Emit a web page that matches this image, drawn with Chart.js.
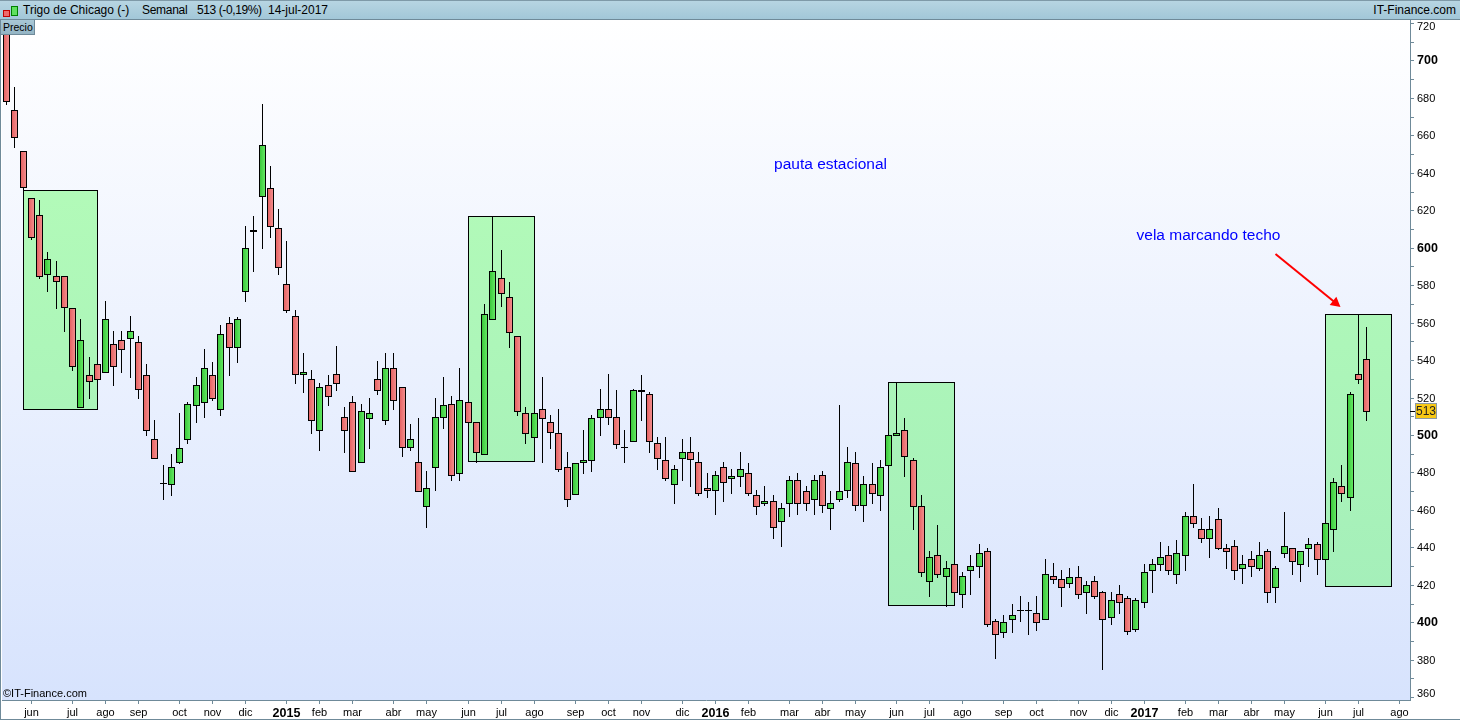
<!DOCTYPE html>
<html>
<head>
<meta charset="utf-8">
<title>Trigo de Chicago</title>
<script src="https://cdn.jsdelivr.net/npm/chart.js@4/dist/chart.umd.js"></script>
<style>
  html, body { margin: 0; padding: 0; background: #fff; overflow: hidden; }
  #wrap { position: relative; width: 1460px; height: 720px; font-family: "Liberation Sans", Arial, sans-serif; color: #000; }
  canvas { position: absolute; left: 0; top: 0; }
  #header { position: absolute; left: 0; top: 0; width: 1460px; height: 20px; box-sizing: border-box;
    background: linear-gradient(#b7d5e2, #a2c7d8); border-top: 1px solid #7f9aa8; border-bottom: 1px solid #6f8a99; font-size: 12px; line-height: 19px; }
  #header span { position: absolute; top: 0; white-space: pre; }
  .ico { position: absolute; box-sizing: border-box; border: 1px solid; }
  #precio { position: absolute; left: 1px; top: 20px; width: 34px; height: 15px; box-sizing: border-box; background: linear-gradient(#a9c8d6, #93b4c4);
    border-right: 1px solid #6f8a99; border-bottom: 1px solid #6f8a99; font-size: 10.5px; line-height: 14px; padding-left: 2px; }
  #copy { position: absolute; left: 3px; top: 687px; font-size: 11px; line-height: 13px; }
  #edge { position: absolute; left: 0; top: 20px; width: 1px; height: 700px; background: #6f8a99; }
  #foot { position: absolute; left: 0; top: 719px; width: 1460px; height: 1px; background: #6f8a99; }
</style>
</head>
<body>
<div id="wrap">
  <canvas id="chart" width="1460" height="720"></canvas>
  <div id="header">
    <i class="ico" style="left:3px;top:9px;width:7px;height:7px;background:#ee6a6a;border-color:#c00000"></i>
    <i class="ico" style="left:11px;top:5px;width:7px;height:10px;background:#5fe05f;border-color:#008000"></i>
    <span style="left:23px">Trigo de Chicago (-)</span>
    <span style="left:142px;letter-spacing:-0.3px">Semanal</span>
    <span style="left:197px;letter-spacing:-0.4px">513 (-0,19%)</span>
    <span style="left:268px">14-jul-2017</span>
    <span style="right:4px">IT-Finance.com</span>
  </div>
  <div id="precio">Precio</div>
  <div id="copy">©IT-Finance.com</div>
  <div id="edge"></div>
  <div id="foot"></div>
</div>
<script>
// weekly candles
const opens = [725,673.4,651.5,626.4,617.3,585.7,584.8,584.8,567.7,514.6,531.9,537.8,533.3,548.4,550.6,551.5,549.5,531.9,497.7,473.7,
  473.5,485.3,497.5,515.7,517.3,531.9,513.6,559.7,546.7,576.5,609.2,627.2,631.7,610.3,580.4,563.3,532.2,529.7,502.3,526.5,
  532.4,509.4,517.4,485.2,508.7,529.7,507.6,535.6,525.4,493.2,485.4,461.7,482.5,509.2,516.3,479.3,517.5,506.8,489.5,561.6,
  583.7,573.6,552.7,511.6,498.6,513.8,506.8,500.9,482.8,467.7,485.3,486.3,509.3,513.8,509.5,493.3,496.5,522.7,521.8,495.6,
  486.5,473.5,487.4,490.8,485.4,471.5,470.3,482.7,476.7,477.7,479.5,467.8,463.3,464.6,453.7,463.3,475.8,469.9,465.5,478.4,
  460.7,465.5,470.3,484.9,462.3,473.6,467.6,483.6,499.6,502.5,486.5,461.9,421.7,435.7,424.3,430.9,414.7,427.5,429.7,437.9,
  400.5,394.4,401.4,405.8,405.8,404.8,401.4,424.5,422.9,420.6,424,415.8,421.8,416,402.4,414.9,412.8,396,410.3,427.5,
  430.7,435.7,425.4,435.6,456.6,449.6,444.6,454.9,439.5,440.5,428.6,433.6,428.6,437.9,418.5,436.6,439.5,430.7,439.3,441.6,
  433.5,449.4,472.6,466.5,532.4,540.4];
const highs = [725,685.7,651.5,626.4,625.5,597.8,592.9,584.8,567.7,562,541.7,537.8,571.6,555.6,555.6,563.6,552.9,538,508,484,
  489.9,511.8,517.5,531,546,539,558.8,563,563,611.6,616.9,676.7,643.6,620.7,603.6,566.7,543.8,534.7,527.6,532,
  547.5,514.9,520.8,516.5,519.7,539.5,543.8,543.8,525.4,505.7,509,480.7,519.7,531,520.8,535.7,517.5,506.8,570,617,
  598.8,581.8,552.7,515,511.6,531,510.7,514,491,484.9,502.7,510.7,524.6,532.6,523.9,502.7,524.6,532.1,522.8,498.8,
  498.8,484,497.9,498.8,490.7,479.7,480.6,485.4,481.8,490.7,485,470.4,472.8,467.8,463.7,477.9,479.7,472.8,478.4,480.6,
  470.1,516,493.4,490.7,477.9,485,486.6,499.8,528.1,509,487.5,467.8,437.9,451.9,432.5,430.9,426.8,435.7,441.8,439.6,
  401.7,403.9,409.7,414,410.8,414,433.8,431.6,427.9,429,430,422,424.7,416.7,416.2,419.9,414,412.8,431.1,433.8,
  442.9,440.7,443.9,458.9,473.8,455.7,456.7,461,441.8,443.9,435.9,438,442.9,439.1,430,458.9,439.5,437.9,445,442.9,
  452.8,476.8,483.9,522.7,564.4,557.6];
const lows = [676.4,653.4,630.9,604.2,583.5,576.4,567.3,555,534.2,514.6,519.3,529.6,533.3,526.2,533.1,530.5,519.3,499.5,487.4,465.3,
  467.5,484.5,495.2,506.4,509.1,518.4,510.2,531.7,538.6,571.2,587.2,599.5,605.3,585.4,565.3,527.2,522.4,500.5,491.6,515.5,
  523.5,490.4,480.4,485.2,492.5,521.3,505.3,513.3,488.2,491.4,469.7,450.5,470.1,503.2,475.4,475.4,506.6,485.3,489.5,561.6,
  568.4,546.5,510.2,495.2,498.6,485.1,492.6,480.5,461.6,467.7,479.2,480.5,499.5,505.4,492.6,485.1,496.5,507.5,490.4,481.4,
  475.5,463.2,475.5,472.3,467.6,466.3,457.3,464.2,468.5,472.2,467.4,457.3,462.1,444.4,440.2,456.2,457.3,459.4,457.3,458.3,
  449.3,464.2,466.3,459.4,453.5,463.1,459.4,483.6,499.6,477.6,449.3,424.2,413.5,423.6,408.3,415.8,407.6,414.5,423.6,397.5,
  380.4,391.6,394.3,400.1,393.2,395.3,401.4,420.4,408.1,418.3,412.4,404.4,412.4,374.5,398.5,404.4,393.2,394.8,407.6,415.6,
  427.4,425.2,420.4,427.4,450.3,442.3,434.3,438.6,428.4,422.6,420.4,424.2,427.4,410.3,410.3,434.3,425.2,421.5,429.5,425.2,
  433.5,437.5,464.2,459.4,527.2,507.4];
const closes = [677.7,658.4,631.7,605.4,584.6,593.8,581.6,567.7,536.5,550.6,528.5,529.6,561.8,536.5,545.6,555.4,524.2,502.3,487.4,473.7,
  482.8,492.9,516.4,526.6,535.6,519.4,553.8,546.7,561.8,599.6,608.6,654.7,611.2,589.3,566.4,532.2,533.4,507.6,525.4,520.4,
  527.4,502.3,480.4,512.6,511.5,523.6,535.6,518.3,493.2,497.6,469.7,471.5,509.4,515.8,478.3,518.5,506.6,490.6,564.5,587.4,
  575.5,554.7,512.5,500.8,511.6,508.8,501.3,481.5,465.5,484.9,486.5,508.9,513.8,509.3,494.4,493.3,523.9,523.9,496.5,487.4,
  476.7,481.7,490.8,486.4,468.7,470.3,478.4,474.5,477.9,481.7,468.7,461.7,464.6,450.5,460.8,475.8,463.3,463.3,475.8,462.3,
  463.5,469.9,485.4,462.3,473.6,468.7,482.7,499.8,500.9,488.4,461.7,426.5,434.7,425.4,428.8,415.8,424.5,429.9,436.8,398.7,
  393.4,399.9,403.7,405.8,405.8,399.8,425.6,422.7,418.5,424,414.7,419.7,413.7,401.4,411.7,410.5,394.8,411.8,426.7,430.9,
  434.7,427.5,436.8,456.6,452.6,444.6,449.6,439.1,437.7,427.5,430.9,429.7,435.7,415.8,428.8,440.5,432.3,437.9,441.6,433.4,
  452.8,474.7,468.6,521.7,529.5,512.4];

// month ticks: week index and label
const tickWeeks = [3,8,12,16,21,25,29,34,38,42,47,51,56,60,64,69,73,77,82,86,90,95,99,103,108,112,116,121,125,130,134,138,143,147,151,155,160,164,169];
const tickLabels = ['jun','jul','ago','sep','oct','nov','dic','2015','feb','mar','abr','may','jun','jul','ago','sep','oct','nov','dic','2016','feb','mar','abr','may','jun','jul','ago','sep','oct','nov','dic','2017','feb','mar','abr','may','jun','jul','ago'];

// seasonal boxes: first week, last week, top and bottom price
const boxStart = [2,56,107,160];
const boxEnd = [11,64,115,168];
const boxTop = [630.7,616.8,528.1,564.4];
const boxBottom = [513.7,486,409,419.2];

const lastPrice = 513;
const FONT = '"Liberation Sans", Arial, sans-serif';

// candles are pixel-snapped like the original
class SnapLinear extends Chart.LinearScale {
    static id = 'snapLinear';
    static defaults = Chart.LinearScale.defaults;

    getPixelForValue(value) {
        const p = super.getPixelForValue(value);
        return this.isHorizontal() ? Math.floor(p) + 0.5 : Math.round(p);
    }
}
Chart.register(SnapLinear);

const bodyFill = (c) => {
    const i = c.dataIndex;
    if (i === undefined) return '#ee7777';
    const up = closes[i] > opens[i];
    const x = c.chart.scales.x.getPixelForValue(i);
    // scales are not laid out yet on the first pass
    if (!Number.isFinite(x)) return up ? '#50d850' : '#ee7777';
    const g = c.chart.ctx.createLinearGradient(x - 3, 0, x + 3, 0);
    if (up) {
        g.addColorStop(0, '#38c438');
        g.addColorStop(1, '#66ec66');
    } else {
        g.addColorStop(0, '#e45f5f');
        g.addColorStop(1, '#f49090');
    }
    return g;
};

const backdrop = {
    id: 'backdrop',
    beforeDraw(chart) {
        const { ctx, chartArea: a } = chart;
        const g = ctx.createLinearGradient(0, a.top, 0, a.bottom);
        g.addColorStop(0, '#ffffff');
        g.addColorStop(1, '#d7e3fd');
        ctx.fillStyle = g;
        ctx.fillRect(a.left, a.top, a.right - a.left, a.bottom - a.top);
    },
    beforeDatasetsDraw(chart) {
        const { ctx, chartArea: a, scales: { x, y } } = chart;
        // the green follows the page gradient, so it runs over the whole plot height
        const g = ctx.createLinearGradient(0, a.top, 0, a.bottom);
        g.addColorStop(0, '#b8ffb8');
        g.addColorStop(1, '#a1ecba');
        boxStart.forEach((start, i) => {
            const left = x.getPixelForValue(start);
            const right = x.getPixelForValue(boxEnd[i]);
            const top = y.getPixelForValue(boxTop[i]) + 0.5;
            const bottom = y.getPixelForValue(boxBottom[i]) + 0.5;
            ctx.fillStyle = g;
            ctx.fillRect(left, top, right - left, bottom - top);
            ctx.strokeStyle = '#000';
            ctx.lineWidth = 1;
            ctx.strokeRect(left, top, right - left, bottom - top);
        });
    },
    afterDraw(chart) {
        const { ctx, scales: { x, y } } = chart;
        ctx.save();
        // annotations
        ctx.font = '15.5px ' + FONT;
        ctx.fillStyle = '#0000ff';
        ctx.textAlign = 'center';
        ctx.textBaseline = 'middle';
        ctx.fillText('pauta estacional', x.getPixelForValue(100), y.getPixelForValue(644.2));
        ctx.fillText('vela marcando techo', x.getPixelForValue(145.8), y.getPixelForValue(606.4));

        // arrow
        const ax = x.getPixelForValue(153.9), ay = y.getPixelForValue(596.7);
        const bx = x.getPixelForValue(161.8), by = y.getPixelForValue(568.4);
        const ang = Math.atan2(by - ay, bx - ax);
        ctx.strokeStyle = '#ff0000';
        ctx.fillStyle = '#ff0000';
        ctx.lineWidth = 2;
        ctx.beginPath();
        ctx.moveTo(ax, ay);
        ctx.lineTo(bx - 5 * Math.cos(ang), by - 5 * Math.sin(ang));
        ctx.stroke();
        ctx.beginPath();
        ctx.moveTo(bx, by);
        ctx.lineTo(bx - 11 * Math.cos(ang - 0.5), by - 11 * Math.sin(ang - 0.5));
        ctx.lineTo(bx - 11 * Math.cos(ang + 0.5), by - 11 * Math.sin(ang + 0.5));
        ctx.closePath();
        ctx.fill();

        // the two outer price labels sit inside the plot height
        ctx.fillStyle = '#000';
        ctx.font = '11px ' + FONT;
        ctx.textAlign = 'left';
        ctx.fillText('720', 1417, y.getPixelForValue(720) + 4);
        ctx.fillText('360', 1417, y.getPixelForValue(360) - 3);

        // last price tag
        const py = y.getPixelForValue(lastPrice);
        ctx.fillStyle = '#000';
        ctx.fillRect(1410, py, 6, 1);
        ctx.fillStyle = '#f7c815';
        ctx.fillRect(1415.5, py - 7.5, 21, 15);
        ctx.strokeStyle = '#8a9aa5';
        ctx.lineWidth = 1;
        ctx.strokeRect(1415.5, py - 7.5, 21, 15);
        ctx.fillStyle = '#222';
        ctx.font = '12px ' + FONT;
        ctx.textAlign = 'center';
        ctx.fillText(String(lastPrice), 1426, py + 1);
        ctx.restore();
    }
};

new Chart(document.getElementById('chart').getContext('2d'), {
    type: 'bar',
    plugins: [backdrop],
    data: {
        datasets: [
            {
                label: 'Cuerpo',
                data: opens.map((o, i) => ({ x: i, y: [o, closes[i]] })),
                order: 1,
                grouped: false,
                barPercentage: 1,
                categoryPercentage: 1,
                maxBarThickness: 7,
                minBarLength: 1,
                inflateAmount: 0,
                borderSkipped: false,
                borderWidth: 1,
                borderColor: '#000',
                backgroundColor: bodyFill
            },
            {
                label: 'Mecha',
                data: highs.map((h, i) => ({ x: i, y: [lows[i], h] })),
                order: 2,
                grouped: false,
                barPercentage: 1,
                categoryPercentage: 1,
                maxBarThickness: 1,
                inflateAmount: 0,
                borderWidth: 0,
                backgroundColor: '#000'
            }
        ]
    },
    options: {
        responsive: false,
        animation: false,
        layout: { padding: { left: 2, top: 20, right: 0, bottom: 0 } },
        plugins: { legend: { display: false }, tooltip: { enabled: false }, title: { display: false } },
        scales: {
            x: {
                type: 'snapLinear',
                offset: false,
                min: -0.558,
                max: 170.27,
                afterBuildTicks(scale) {
                    scale.ticks = tickWeeks.map(value => ({ value }));
                },
                afterFit(scale) {
                    scale.height = 20;
                },
                border: { color: '#6f8a99', width: 1 },
                grid: { offset: false, drawOnChartArea: false, color: '#6f8a99', tickLength: 4 },
                ticks: {
                    autoSkip: false,
                    maxRotation: 0,
                    minRotation: 0,
                    padding: 2,
                    color: '#000',
                    callback: (value, index) => tickLabels[index],
                    font: (c) => {
                        const bold = /^\d/.test(tickLabels[c.index] || '');
                        return { family: FONT, size: bold ? 12.5 : 11, weight: bold ? 'bold' : 'normal' };
                    }
                }
            },
            y: {
                type: 'snapLinear',
                position: 'right',
                min: 358.5,
                max: 721.6,
                afterFit(scale) {
                    scale.width = 50;
                },
                border: { color: '#6f8a99', width: 1 },
                grid: { drawOnChartArea: false, color: '#6f8a99', tickLength: 4 },
                ticks: {
                    stepSize: 10,
                    includeBounds: false,
                    autoSkip: false,
                    padding: 3,
                    labelOffset: 1,
                    color: '#000',
                    callback: (value) => (value % 20 === 0 && value !== 720 && value !== 360 ? String(value) : ''),
                    font: (c) => {
                        const bold = c.tick && c.tick.value % 100 === 0;
                        return { family: FONT, size: bold ? 12.5 : 11, weight: bold ? 'bold' : 'normal' };
                    }
                }
            }
        }
    }
});
</script>
</body>
</html>
